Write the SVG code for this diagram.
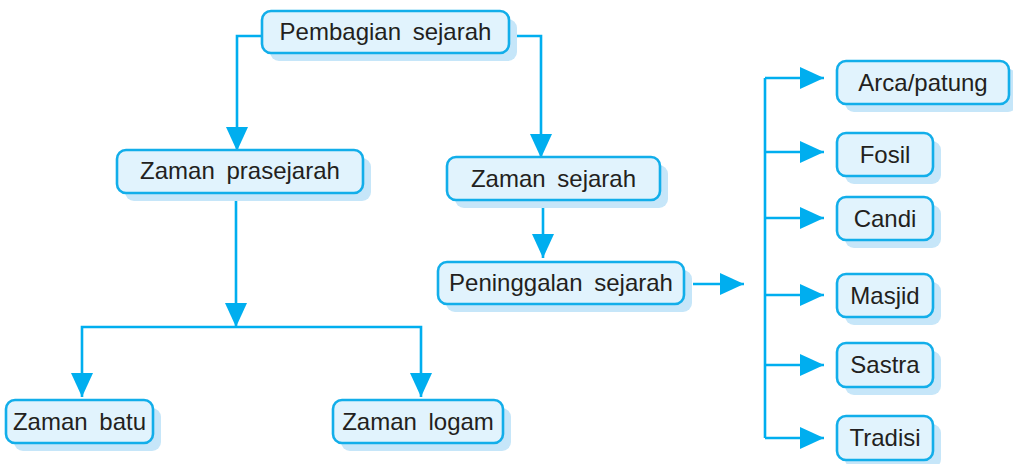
<svg xmlns="http://www.w3.org/2000/svg" width="1013" height="464" viewBox="0 0 1013 464">
<style>
.shadow{fill:#c6e6f9;stroke:none}
.box{fill:#e1f3fd;stroke:#12aeea;stroke-width:2.6}
.lbl{font-family:"Liberation Sans",Arial,sans-serif;font-size:24px;fill:#231f20;text-anchor:middle;word-spacing:5px}
.con{fill:none;stroke:#00aeef;stroke-width:2.6}
</style>
<defs>
<marker id="ah" markerUnits="userSpaceOnUse" markerWidth="24" markerHeight="24" refX="24" refY="12" orient="auto" viewBox="0 0 24 24">
<path d="M0,1 L24,12 L0,23 z" fill="#00aeef"/>
</marker>
</defs>
<rect width="1013" height="464" fill="#fff"/>
<g id="connectors">
<path class="con" d="M262,36 H237 V151" marker-end="url(#ah)"/>
<path class="con" d="M517,36 H541 V158" marker-end="url(#ah)"/>
<path class="con" d="M236,201 V327" marker-end="url(#ah)"/>
<path class="con" d="M237,327 H82 V397" marker-end="url(#ah)"/>
<path class="con" d="M237,327 H421 V397" marker-end="url(#ah)"/>
<path class="con" d="M543,208 V258" marker-end="url(#ah)"/>
<path class="con" d="M693,284 H744" marker-end="url(#ah)"/>
<path class="con" d="M765,78 V438"/>
<path class="con" d="M765,78 H824" marker-end="url(#ah)"/>
<path class="con" d="M765,152 H824" marker-end="url(#ah)"/>
<path class="con" d="M765,218 H824" marker-end="url(#ah)"/>
<path class="con" d="M765,295 H824" marker-end="url(#ah)"/>
<path class="con" d="M765,365 H824" marker-end="url(#ah)"/>
<path class="con" d="M765,438 H824" marker-end="url(#ah)"/>
</g>
<g id="pembagian">
<rect class="shadow" x="270" y="19" width="247" height="42" rx="9"/>
<rect class="box" x="262" y="11" width="247" height="42" rx="9"/>
<text class="lbl" x="385.5" y="40">Pembagian sejarah</text>
</g>
<g id="prasejarah">
<rect class="shadow" x="125" y="158" width="246" height="43" rx="9"/>
<rect class="box" x="117" y="150" width="246" height="43" rx="9"/>
<text class="lbl" x="240" y="179">Zaman prasejarah</text>
</g>
<g id="sejarah">
<rect class="shadow" x="455" y="165" width="213" height="43" rx="9"/>
<rect class="box" x="447" y="157" width="213" height="43" rx="9"/>
<text class="lbl" x="553.5" y="187">Zaman sejarah</text>
</g>
<g id="peninggalan">
<rect class="shadow" x="446" y="270" width="246" height="42" rx="9"/>
<rect class="box" x="438" y="262" width="246" height="42" rx="9"/>
<text class="lbl" x="561" y="291">Peninggalan sejarah</text>
</g>
<g id="batu">
<rect class="shadow" x="14" y="408" width="147" height="43" rx="9"/>
<rect class="box" x="6" y="400" width="147" height="43" rx="9"/>
<text class="lbl" x="79.5" y="430">Zaman batu</text>
</g>
<g id="logam">
<rect class="shadow" x="341" y="408" width="170" height="43" rx="9"/>
<rect class="box" x="333" y="400" width="170" height="43" rx="9"/>
<text class="lbl" x="418" y="430">Zaman logam</text>
</g>
<g id="arca">
<rect class="shadow" x="845" y="69" width="172" height="43" rx="9"/>
<rect class="box" x="837" y="61" width="172" height="43" rx="9"/>
<text class="lbl" x="923" y="91">Arca/patung</text>
</g>
<g id="fosil">
<rect class="shadow" x="845" y="141" width="96" height="43" rx="9"/>
<rect class="box" x="837" y="133" width="96" height="43" rx="9"/>
<text class="lbl" x="885" y="163">Fosil</text>
</g>
<g id="candi">
<rect class="shadow" x="845" y="205" width="96" height="43" rx="9"/>
<rect class="box" x="837" y="197" width="96" height="43" rx="9"/>
<text class="lbl" x="885" y="227">Candi</text>
</g>
<g id="masjid">
<rect class="shadow" x="845" y="282" width="96" height="43" rx="9"/>
<rect class="box" x="837" y="274" width="96" height="43" rx="9"/>
<text class="lbl" x="885" y="304">Masjid</text>
</g>
<g id="sastra">
<rect class="shadow" x="845" y="351" width="96" height="44" rx="9"/>
<rect class="box" x="837" y="343" width="96" height="44" rx="9"/>
<text class="lbl" x="885" y="373">Sastra</text>
</g>
<g id="tradisi">
<rect class="shadow" x="845" y="424" width="96" height="44" rx="9"/>
<rect class="box" x="837" y="416" width="96" height="44" rx="9"/>
<text class="lbl" x="885" y="446">Tradisi</text>
</g>
</svg>
